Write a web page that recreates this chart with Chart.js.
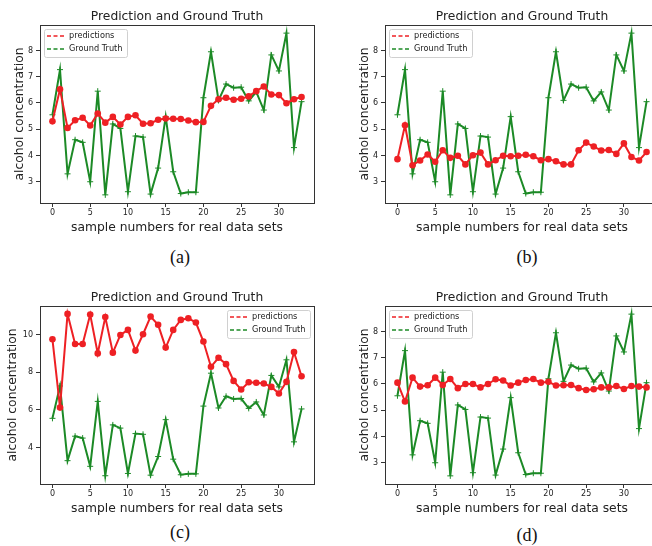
<!DOCTYPE html>
<html>
<head>
<meta charset="utf-8">
<script src="https://cdn.jsdelivr.net/npm/chart.js@4.4.1/dist/chart.umd.min.js"></script>
<style>
html, body { margin: 0; padding: 0; background: #fff; }
body { width: 652px; height: 546px; position: relative; overflow: hidden; }
.panel { position: absolute; width: 326px; height: 240px; }
.panel canvas { display: block; }
.cap { position: absolute; font-family: "Liberation Serif", serif; font-size: 18px; color: #111;
       transform: translate(-50%, -50%); white-space: nowrap; }
</style>
</head>
<body>
<div class="panel" style="left:0px;top:0px"><canvas id="chartA" width="326" height="240"></canvas></div>
<div class="panel" style="left:345px;top:0px"><canvas id="chartB" width="326" height="240"></canvas></div>
<div class="panel" style="left:0px;top:281px"><canvas id="chartC" width="326" height="240"></canvas></div>
<div class="panel" style="left:345px;top:281px"><canvas id="chartD" width="326" height="240"></canvas></div>
<div class="cap" style="left:180px;top:257px">(a)</div>
<div class="cap" style="left:527px;top:257px">(b)</div>
<div class="cap" style="left:180px;top:532px">(c)</div>
<div class="cap" style="left:527px;top:535px">(d)</div>
<script>
// donnees
var sampleIdx = [0, 1, 2, 3, 4, 5, 6, 7, 8, 9, 10, 11, 12, 13, 14, 15, 16,
                 17, 18, 19, 20, 21, 22, 23, 24, 25, 26, 27, 28, 29, 30, 31, 32, 33];
var groundTruth = [5.55, 7.27, 3.30, 4.60, 4.50, 3.00, 6.45, 2.50, 5.20, 5.03, 2.62, 4.74,
                   4.70, 2.53, 3.52, 5.48, 3.38, 2.55, 2.60, 2.60, 6.20, 7.95, 6.10, 6.72,
                   6.58, 6.60, 6.08, 6.42, 5.73, 7.83, 7.22, 8.66, 4.30, 6.05];
var predA = [5.30, 6.52, 5.05, 5.34, 5.44, 5.14, 5.60, 5.25, 5.47, 5.18, 5.47, 5.53,
             5.21, 5.23, 5.36, 5.41, 5.40, 5.39, 5.33, 5.27, 5.28, 5.89, 6.14, 6.20,
             6.12, 6.16, 6.25, 6.45, 6.63, 6.32, 6.30, 5.99, 6.14, 6.23];
var predB = [3.86, 5.15, 3.63, 3.81, 4.04, 3.76, 4.20, 3.91, 3.99, 3.66, 4.01, 4.11,
             3.66, 3.82, 3.99, 3.97, 3.99, 4.03, 3.97, 3.82, 3.86, 3.78, 3.66, 3.66,
             4.20, 4.49, 4.34, 4.19, 4.21, 4.06, 4.46, 3.94, 3.81, 4.13];
var predC = [9.75, 6.12, 11.10, 9.50, 9.50, 11.07, 9.00, 10.93, 9.04, 9.98, 10.25, 9.15,
             10.02, 10.96, 10.52, 9.31, 10.25, 10.78, 10.87, 10.64, 9.63, 8.29, 8.77, 8.43,
             7.54, 7.08, 7.47, 7.44, 7.40, 7.22, 6.87, 7.49, 9.07, 7.79];
var predD = [6.05, 5.33, 6.24, 5.90, 5.95, 6.24, 5.96, 6.19, 5.84, 6.00, 6.00, 5.87,
             6.00, 6.18, 6.13, 5.94, 6.05, 6.15, 6.19, 6.05, 6.08, 5.94, 5.95, 5.96,
             5.84, 5.77, 5.80, 5.87, 5.87, 5.92, 5.81, 5.92, 5.90, 5.87];
var xTicks = [0, 5, 10, 15, 20, 25, 30];
var yTicksSmall = [3, 4, 5, 6, 7, 8];
var yTicksC = [4, 6, 8, 10];

var FONT = '"DejaVu Sans", sans-serif';
var TXT = '#222';
var RED = '#ee2024';
var GREEN = '#1c8a26';

function toPoints(values) {
    return sampleIdx.map(function(x, i) { return { x: x, y: values[i] }; });
}

// cadre, titre et legende dessines dans le canvas
var panelDecor = {
    id: 'panelDecor',
    afterDatasetsDraw: function(chart, args, opts) {
        var ctx = chart.ctx;
        var area = chart.chartArea;
        ctx.save();
        ctx.strokeStyle = '#333';
        ctx.lineWidth = 1;
        ctx.strokeRect(Math.round(area.left) + 0.5, Math.round(area.top) + 0.5,
                       Math.round(area.right - area.left), Math.round(area.bottom - area.top));

        ctx.fillStyle = TXT;
        ctx.font = '12.3px ' + FONT;
        ctx.textAlign = 'center';
        ctx.textBaseline = 'alphabetic';
        ctx.fillText(opts.title, (area.left + area.right) / 2, area.top - 5);

        var w = 83, h = 28;
        var bx = opts.legendSide === 'right' ? area.right - 4 - w : area.left + 4;
        var by = area.top + 4;
        ctx.fillStyle = 'rgba(255,255,255,0.85)';
        ctx.strokeStyle = '#d0d0d0';
        ctx.beginPath();
        ctx.roundRect(bx + 0.5, by + 0.5, w, h, 2);
        ctx.fill();
        ctx.stroke();

        var rows = [{ label: 'predictions', color: RED }, { label: 'Ground Truth', color: GREEN }];
        ctx.font = '8.2px ' + FONT;
        ctx.textAlign = 'left';
        ctx.textBaseline = 'middle';
        rows.forEach(function(r, i) {
            var yy = by + 7 + i * 13;
            ctx.strokeStyle = r.color;
            ctx.lineWidth = 1.5;
            ctx.setLineDash([4, 2.5]);
            ctx.beginPath();
            ctx.moveTo(bx + 3, yy);
            ctx.lineTo(bx + 21, yy);
            ctx.stroke();
            ctx.setLineDash([]);
            ctx.fillStyle = TXT;
            ctx.fillText(r.label, bx + 25, yy);
        });
        ctx.restore();
    }
};

function makePanel(canvasId, preds, yMin, yMax, yTicks, legendSide, yTitlePad) {
    var ctx = document.getElementById(canvasId).getContext('2d');
    return new Chart(ctx, {
        type: 'line',
        data: {
            datasets: [{
                label: 'predictions',
                data: toPoints(preds),
                borderColor: RED,
                backgroundColor: RED,
                borderWidth: 2,
                pointStyle: 'circle',
                pointRadius: 3.3,
                pointBorderWidth: 0,
                tension: 0
            }, {
                label: 'Ground Truth',
                data: toPoints(groundTruth),
                borderColor: GREEN,
                backgroundColor: GREEN,
                borderWidth: 2,
                pointStyle: 'cross',
                pointRadius: 3,
                pointBorderWidth: 1,
                tension: 0
            }]
        },
        options: {
            responsive: false,
            animation: false,
            devicePixelRatio: 1,
            layout: { padding: { top: 25, right: 12, bottom: 0, left: 0 } },
            plugins: {
                legend: { display: false },
                tooltip: { enabled: false },
                title: { display: false },
                panelDecor: { title: 'Prediction and Ground Truth', legendSide: legendSide }
            },
            scales: {
                x: {
                    type: 'linear',
                    min: -1.65,
                    max: 34.65,
                    afterBuildTicks: function(axis) {
                        axis.ticks = xTicks.map(function(v) { return { value: v }; });
                    },
                    afterFit: function(axis) { axis.height = 37; },
                    ticks: { font: { family: FONT, size: 8 }, color: TXT, padding: 1,
                             maxRotation: 0, autoSkip: false },
                    grid: { drawOnChartArea: false, tickLength: 4, color: '#333' },
                    border: { color: '#333' },
                    title: { display: true, text: 'sample numbers for real data sets',
                             font: { family: FONT, size: 12.3 }, color: TXT,
                             padding: { top: 0, bottom: 5 } }
                },
                y: {
                    min: yMin,
                    max: yMax,
                    afterBuildTicks: function(axis) {
                        axis.ticks = yTicks.map(function(v) { return { value: v }; });
                    },
                    afterFit: function(axis) { axis.width = 40; },
                    ticks: { font: { family: FONT, size: 8 }, color: TXT, padding: 3 },
                    grid: { drawOnChartArea: false, tickLength: 4, color: '#333' },
                    border: { color: '#333' },
                    title: { display: true, text: 'alcohol concentration',
                             font: { family: FONT, size: 12.3 }, color: TXT,
                             padding: { top: yTitlePad, bottom: 0 } }
                }
            }
        },
        plugins: [panelDecor]
    });
}

makePanel('chartA', predA, 2.19, 8.97, yTicksSmall, 'left', 12);
makePanel('chartB', predB, 2.19, 8.97, yTicksSmall, 'left', 12);
makePanel('chartC', predC, 2.06, 11.52, yTicksC, 'right', 5);
makePanel('chartD', predD, 2.19, 8.97, yTicksSmall, 'left', 12);
</script>
</body>
</html>
